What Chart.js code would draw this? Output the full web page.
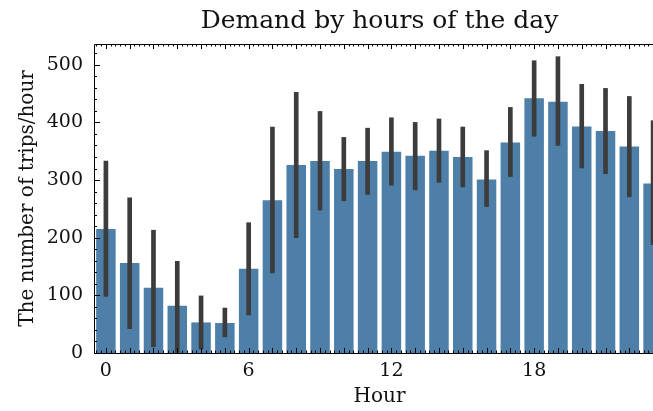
<!DOCTYPE html>
<html>
<head>
<meta charset="utf-8">
<script src="https://cdn.jsdelivr.net/npm/chart.js@4.4.0/dist/chart.umd.min.js"></script>
<style>
    html, body { margin: 0; padding: 0; overflow: hidden; background: white; }
    #wrap { width: 653px; height: 411px; overflow: hidden; }
</style>
</head>
<body>
<div id="wrap"><canvas id="myChart" width="760" height="411"></canvas></div>
<script>
// hours of the day
const hours = ['0', '1', '2', '3', '4', '5', '6', '7', '8', '9', '10', '11',
    '12', '13', '14', '15', '16', '17', '18', '19', '20', '21', '22', '23'];

// mean trips per hour
const trips = [215, 156, 113, 82, 53, 52, 146, 265, 326, 333, 319, 333,
    349, 342, 351, 340, 301, 365, 442, 436, 393, 385, 358, 294];

// confidence interval low / high
const ciLow = [98, 42, 11, 0, 7, 28, 66, 139, 200, 248, 264, 275,
    291, 283, 296, 288, 254, 306, 376, 360, 321, 311, 271, 188];
const ciHigh = [333, 269, 213, 159, 99, 78, 226, 392, 452, 419, 374, 390,
    408, 400, 406, 392, 351, 426, 507, 514, 466, 459, 445, 403];

const xTickLabels = ['0', '6', '12', '18'];
const yTicks = [0, 100, 200, 300, 400, 500];

const serif = "'DejaVu Serif', 'Liberation Serif', serif";

// inward ticks on left, top and bottom, plus the frame
const frameTicks = {
    id: 'frameTicks',
    afterDraw(chart) {
        const ctx = chart.ctx;
        const a = chart.chartArea;
        const x = chart.scales.x;
        const y = chart.scales.y;
        ctx.save();
        ctx.strokeStyle = '#000';
        ctx.lineWidth = 1;
        ctx.beginPath();
        ctx.rect(a.left + 0.5, a.top + 0.5, a.right - a.left, a.bottom - a.top);
        ctx.stroke();

        ctx.beginPath();
        // y ticks
        for (let v = 0; v <= y.max; v += 20) {
            let py = Math.round(y.getPixelForValue(v)) + 0.5;
            let len = (v % 100 === 0) ? 6 : 3;
            ctx.moveTo(a.left, py);
            ctx.lineTo(a.left + len, py);
        }
        // x ticks
        let step = x.getPixelForValue(1) - x.getPixelForValue(0);
        for (let i = 0; i < hours.length; i++) {
            for (let k = -2; k <= 2; k++) {
                let px = Math.round(x.getPixelForValue(i) + k * step / 5) + 0.5;
                if (px < a.left + 1) continue;
                let len = k === 0 ? 5 : 2.5;
                ctx.moveTo(px, a.bottom);
                ctx.lineTo(px, a.bottom - len);
                ctx.moveTo(px, a.top);
                ctx.lineTo(px, a.top + len);
            }
        }
        ctx.stroke();
        ctx.restore();
    }
};

let chart = new Chart(document.getElementById('myChart'), {
    type: 'bar',
    data: {
        labels: hours,
        datasets: [{
            label: 'ci',
            data: ciLow.map((lo, i) => [lo, ciHigh[i]]),
            backgroundColor: '#3c3c3c',
            barThickness: 4,
            grouped: false,
            order: 0
        }, {
            label: 'trips',
            data: trips,
            backgroundColor: '#4d7fa9',
            barPercentage: 0.82,
            categoryPercentage: 1,
            grouped: false,
            order: 1
        }]
    },
    options: {
        responsive: false,
        animation: false,
        layout: { padding: { left: 0, right: 95, top: 0, bottom: 0 } },
        plugins: {
            legend: { display: false },
            tooltip: { enabled: false }
        },
        scales: {
            // top axis only carries the title, centred over the plot
            top: {
                type: 'category',
                position: 'top',
                offset: true,
                grid: { display: false, drawTicks: false },
                border: { display: false },
                ticks: { display: false },
                title: {
                    display: true,
                    text: 'Demand by hours of the day',
                    color: '#111',
                    font: { family: serif, size: 25 },
                    padding: { top: 6, bottom: 8 }
                }
            },
            x: {
                offset: true,
                grid: { display: false, drawTicks: false },
                border: { display: false },
                afterFit: (s) => { s.height = 58; },
                ticks: {
                    autoSkip: false,
                    maxRotation: 0,
                    color: '#111',
                    padding: 7,
                    font: { family: serif, size: 19 },
                    callback: (v, i) => xTickLabels.includes(hours[i]) ? hours[i] : ''
                },
                title: {
                    display: true,
                    text: 'Hour',
                    color: '#111',
                    font: { family: serif, size: 20 },
                    padding: { top: 2, bottom: 2 }
                }
            },
            y: {
                min: 0,
                max: 536,
                grid: { display: false, drawTicks: false },
                border: { display: false },
                afterFit: (s) => { s.width = 94; },
                afterBuildTicks: (s) => { s.ticks = yTicks.map(v => ({ value: v })); },
                ticks: {
                    color: '#111',
                    padding: 11,
                    font: { family: serif, size: 19 }
                },
                title: {
                    display: true,
                    text: 'The number of trips/hour',
                    color: '#111',
                    font: { family: serif, size: 20 },
                    padding: { top: 16, bottom: 4 }
                }
            }
        }
    },
    plugins: [frameTicks]
});
</script>
</body>
</html>
